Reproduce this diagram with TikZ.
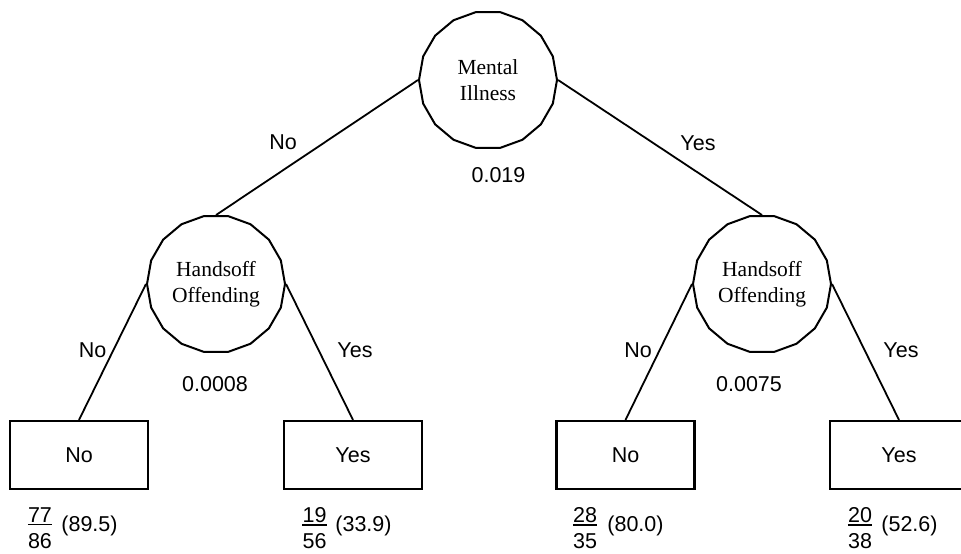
\documentclass[tikz,border=0pt]{standalone}
\usepackage{fontspec}
\setmainfont{Liberation Sans}
\newfontfamily\splitfont{Liberation Serif}
\usetikzlibrary{shapes.geometric}
\begin{document}
\begin{tikzpicture}[x=1pt,y=-1pt,
  every node/.style={font=\fontsize{21.5}{26}\selectfont, inner sep=0pt},
  split/.style={draw, line width=2pt, regular polygon, regular polygon sides=18,
    minimum size=138pt, align=center, font=\splitfont\fontsize{21.5}{26}\selectfont},
  leaf/.style={draw, line width=2.2pt, minimum width=138pt, minimum height=68pt},
  branch/.style={line width=1.8pt},
  bar/.style={line width=1.5pt}]
\useasboundingbox (0,0) rectangle (961,554);
\clip (0,0) rectangle (961,554);

% splitting variables
\node[split] (mi) at (488,80)  {Mental\\Illness};
\node[split] (hl) at (216,284) {Handsoff\\Offending};
\node[split] (hr) at (762,284) {Handsoff\\Offending};

% terminal nodes
\node[leaf] (l1) at (79,455)  {No};
\node[leaf] (l2) at (353,455) {Yes};
\node[leaf] (l3) at (625.5,455) {No};
\node[leaf, minimum width=150pt] (l4) at (905,455) {};
\node (l4t) at (899,455) {Yes};

% branches
\draw[branch] (mi.west) -- (hl.north);
\draw[branch] (mi.east) -- (hr.north);
\draw[branch] (hl.west) -- (l1.north);
\draw[branch] (hl.east) -- (l2.north);
\draw[branch] (hr.west) -- (l3.north);
\draw[branch] (hr.east) -- (l4t.center |- l4.north);

% branch labels
\node (bno1)  at (283,142) {No};
\node (byes1) at (698,143) {Yes};
\node (bno2)  at (92.5,350) {No};
\node (byes2) at (355,350) {Yes};
\node (bno3)  at (638,350) {No};
\node (byes3) at (901,350) {Yes};

% p-values
\node (p1) at (498.5,175) {0.019};
\node (p2) at (215,384) {0.0008};
\node (p3) at (749,384) {0.0075};

% counts under the leaves
\node[anchor=base] (n1) at (40,522) {77};
\node[anchor=base] (d1) at (40,548.5) {86};
\draw[bar] ([yshift=-2.5pt]n1.south west) -- ([yshift=-2.5pt]n1.south east);
\node[anchor=base] (r1) at (89.5,531) {(89.5)};

\node[anchor=base] (n2) at (314.5,522) {19};
\node[anchor=base] (d2) at (314.5,548.5) {56};
\draw[bar] ([yshift=-2.5pt]n2.south west) -- ([yshift=-2.5pt]n2.south east);
\node[anchor=base] (r2) at (363.5,531) {(33.9)};

\node[anchor=base] (n3) at (585,522) {28};
\node[anchor=base] (d3) at (585,548.5) {35};
\draw[bar] ([yshift=-2.5pt]n3.south west) -- ([yshift=-2.5pt]n3.south east);
\node[anchor=base] (r3) at (635.5,531) {(80.0)};

\node[anchor=base] (n4) at (860,522) {20};
\node[anchor=base] (d4) at (860,548.5) {38};
\draw[bar] ([yshift=-2.5pt]n4.south west) -- ([yshift=-2.5pt]n4.south east);
\node[anchor=base] (r4) at (909.5,531) {(52.6)};
\end{tikzpicture}
\end{document}
